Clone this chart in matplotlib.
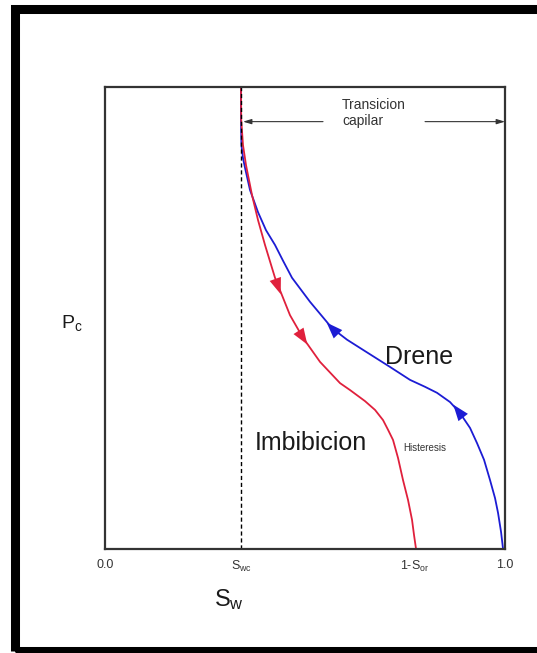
import numpy as np
import matplotlib
matplotlib.use("Agg")
import matplotlib.pyplot as plt
from matplotlib.patches import Rectangle

plt.rcParams["font.family"] = ["Liberation Sans", "DejaVu Sans"]
plt.rcParams["mathtext.fontset"] = "custom"
plt.rcParams["mathtext.rm"] = "Liberation Sans"

# Saturation markers on the Sw axis
SWC = 0.34
ONE_MINUS_SOR = 0.775
tick_pos = [0.0, SWC, ONE_MINUS_SOR, 1.0]
tick_labels = ["0.0", r"$\mathrm{S_{wc}}$", r"$\mathrm{1\text{-}S_{or}}$", "1.0"]

# Drainage curve (Drene)
drene_sw = [0.340, 0.340, 0.341, 0.345, 0.350, 0.3625, 0.3825, 0.4025, 0.425, 0.445,
            0.4675, 0.5125, 0.5675, 0.605, 0.645, 0.7125, 0.7625, 0.800, 0.830, 0.8625,
            0.8875, 0.9125, 0.930, 0.9475, 0.9625, 0.975, 0.9825, 0.990, 0.995]
drene_pc = [1.000, 0.929, 0.874, 0.846, 0.825, 0.777, 0.729, 0.690, 0.658, 0.624,
            0.587, 0.535, 0.478, 0.453, 0.431, 0.394, 0.366, 0.351, 0.338, 0.318,
            0.294, 0.262, 0.229, 0.193, 0.149, 0.110, 0.078, 0.037, 0.000]

# Imbibition curve (Imbibicion)
imb_sw = [0.340, 0.3405, 0.345, 0.3525, 0.3675, 0.3825, 0.400, 0.425, 0.4625, 0.495,
          0.5375, 0.5875, 0.6125, 0.650, 0.675, 0.695, 0.7075, 0.720, 0.7325, 0.745,
          0.7575, 0.7675, 0.7725, 0.7775]
imb_pc = [1.000, 0.929, 0.874, 0.831, 0.766, 0.712, 0.658, 0.587, 0.506, 0.457,
          0.405, 0.359, 0.344, 0.320, 0.301, 0.279, 0.258, 0.236, 0.197, 0.149,
          0.106, 0.063, 0.030, 0.000]

# Flow direction arrows (position on the curve)
imb_arrows = [(0.4325, 0.568), (0.495, 0.457)]
drene_arrows = [(0.5675, 0.478), (0.8825, 0.299)]

RED = "#e0203c"
BLUE = "#1c1cd4"


def draw_arrows(ax, sw, pc, points, color, forward):
    sw = np.asarray(sw)
    pc = np.asarray(pc)
    for x, y in points:
        i = int(np.argmin((sw - x) ** 2 + (pc - y) ** 2))
        i0, i1 = max(i - 1, 0), min(i + 1, len(sw) - 1)
        dx, dy = sw[i1] - sw[i0], pc[i1] - pc[i0]
        if not forward:
            dx, dy = -dx, -dy
        n = np.hypot(dx, dy)
        s = 0.018
        ax.annotate("", xy=(x + dx / n * s, y + dy / n * s), xytext=(x - dx / n * s, y - dy / n * s),
                    arrowprops=dict(arrowstyle="-|>,head_length=0.9,head_width=0.33",
                                    color=color, lw=0, shrinkA=0, shrinkB=0,
                                    mutation_scale=13))


fig = plt.figure(figsize=(5.37, 6.53), dpi=100)
ax = fig.add_axes([0.1955, 0.1593, 0.745, 0.7075])

ax.plot(drene_sw, drene_pc, color=BLUE, lw=1.3, solid_joinstyle="round")
ax.plot(imb_sw, imb_pc, color=RED, lw=1.3, solid_joinstyle="round")
draw_arrows(ax, imb_sw, imb_pc, imb_arrows, RED, forward=True)
draw_arrows(ax, drene_sw, drene_pc, drene_arrows, BLUE, forward=False)

ax.plot([SWC, SWC], [0, 1], color="black", lw=1.0, linestyle=(0, (3, 2)))

ax.set_xlim(0, 1)
ax.set_ylim(0, 1)
ax.set_yticks([])
ax.set_xticks(tick_pos)
ax.set_xticklabels(tick_labels, fontsize=9, color="#333333")
ax.tick_params(axis="x", length=0, pad=7)
for sp in ax.spines.values():
    sp.set_color("#333333")
    sp.set_linewidth(1.6)

# capillary transition annotation
ya = 0.925
arrow_kw = dict(arrowstyle="-|>,head_length=0.5,head_width=0.15", color="#333333", lw=0.8,
                shrinkA=0, shrinkB=0)
ax.annotate("", xy=(SWC + 0.005, ya), xytext=(0.545, ya), arrowprops=arrow_kw)
ax.annotate("", xy=(1.0, ya), xytext=(0.80, ya), arrowprops=arrow_kw)
ax.text(0.593, ya + 0.018, "Transicion\ncapilar", fontsize=10, color="#333333",
        ha="left", va="center", linespacing=1.2)

ax.text(0.70, 0.415, "Drene", fontsize=18, color="#1a1a1a", ha="left", va="center")
ax.text(0.375, 0.230, "Imbibicion", fontsize=18, color="#1a1a1a", ha="left", va="center")
ax.text(0.745, 0.218, "Histeresis", fontsize=7, color="#333333", ha="left", va="center")

ax.text(-0.11, 0.49, r"$\mathrm{P_c}$", fontsize=14, color="#1a1a1a",
        ha="left", va="center", transform=ax.transAxes)
ax.text(0.31, -0.11, r"$\mathrm{S_w}$", fontsize=17, color="#1a1a1a",
        ha="center", va="center", transform=ax.transAxes)

# outer black frame (cropped at right and bottom)
fig.add_artist(Rectangle((14.5 / 537, 2 / 653), 1.05, (644.5 - 2) / 653,
                         transform=fig.transFigure, fill=False,
                         edgecolor="black", lw=6.5))

fig.savefig("out.png", dpi=100, facecolor="white")
